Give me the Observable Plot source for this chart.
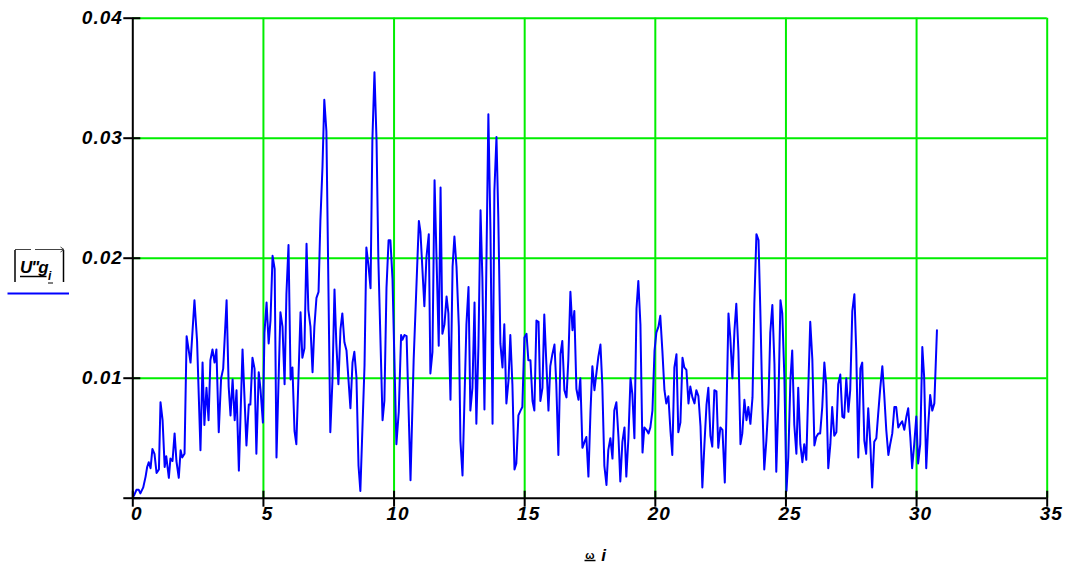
<!DOCTYPE html>
<html>
<head>
<meta charset="utf-8">
<script src="https://cdn.jsdelivr.net/npm/d3@7"></script>
<script src="https://cdn.jsdelivr.net/npm/@observablehq/plot@0.6"></script>
<style>
  html, body { margin: 0; padding: 0; background: #fff; }
  #chart { width: 1073px; height: 564px; }
</style>
</head>
<body>
<div id="chart"></div>
<script>
// x values (ω_i)
const omega = [
  0.04,0.14,0.23,0.29,0.40,0.49,0.55,0.61,0.68,0.75,0.83,0.91,1.00,1.06,1.14,1.22,1.28,1.38,1.44,1.52,
  1.60,1.67,1.76,1.83,1.89,1.98,2.06,2.21,2.36,2.46,2.59,2.67,2.74,2.82,2.90,2.97,3.05,3.13,3.20,3.29,
  3.38,3.46,3.59,3.67,3.74,3.82,3.90,3.97,4.06,4.20,4.35,4.44,4.50,4.58,4.66,4.73,4.82,4.89,4.98,
  5.04,5.12,5.20,5.27,5.35,5.43,5.50,5.65,5.73,5.81,5.88,5.96,6.04,6.11,6.19,6.26,6.42,6.49,6.57,6.65,
  6.72,6.80,6.88,6.95,7.03,7.11,7.18,7.26,7.33,7.41,7.56,7.64,7.72,7.79,7.87,7.95,8.02,8.10,8.18,8.33,
  8.41,8.48,8.56,8.64,8.71,8.87,8.94,9.02,9.10,9.17,9.25,9.33,9.40,
  9.56,9.63,9.71,9.79,9.86,9.94,10.09,10.18,10.27,10.32,10.40,10.48,10.63,10.75,10.95,11.01,11.16,11.24,11.33,11.39,
  11.47,11.55,11.71,11.78,11.85,11.93,12.01,12.08,12.16,12.24,12.31,12.39,12.48,12.54,12.62,12.77,12.85,12.92,13.00,13.08,
  13.15,13.23,13.31,13.38,13.46,13.54,13.61,13.69,13.77,13.84,13.92,13.99,14.07,14.15,14.22,14.30,14.38,14.45,14.53,14.61,
  14.68,14.76,14.84,14.91,14.99,15.07,15.14,15.22,15.30,15.37,15.45,15.53,15.60,15.68,15.75,15.83,15.91,15.98,16.06,16.14,
  16.21,16.29,16.37,16.44,16.52,16.60,16.67,16.75,16.83,16.90,16.98,17.06,17.13,17.21,17.29,17.36,17.44,17.52,17.59,17.67,
  17.75,17.82,17.90,17.97,18.05,18.13,18.20,18.28,18.36,18.43,18.51,18.59,18.66,18.74,18.82,18.89,18.97,19.05,
  19.12,19.20,19.28,19.35,19.43,19.51,19.58,19.66,19.74,19.81,19.89,19.97,20.04,20.12,20.19,20.27,20.35,20.42,20.50,20.58,
  20.65,20.73,20.81,20.88,20.96,21.04,21.11,21.19,21.27,21.34,21.42,21.50,21.57,21.65,21.73,21.80,21.88,21.96,22.03,22.11,
  22.18,22.26,22.34,22.41,22.49,22.57,22.66,22.72,22.80,22.87,22.95,23.03,23.10,23.18,23.26,23.33,23.41,23.49,23.56,23.64,
  23.72,23.79,23.87,23.95,24.02,24.10,24.17,24.25,24.33,24.40,24.48,24.56,24.63,24.71,24.79,24.86,24.94,25.02,25.09,25.17,
  25.24,25.32,25.40,25.47,25.55,25.63,25.70,25.78,25.86,25.93,26.01,26.09,26.16,26.24,26.31,26.39,26.47,26.54,26.62,
  26.70,26.77,26.85,26.93,27.00,27.08,27.16,27.23,27.31,27.39,27.46,27.54,27.62,27.69,27.77,27.85,27.92,28.00,28.07,28.15,
  28.23,28.30,28.38,28.46,28.53,28.61,28.69,28.76,28.84,28.92,28.99,29.07,29.15,29.22,29.30,29.38,29.45,29.53,29.61,29.68,
  29.76,29.83,29.91,29.99,30.06,30.14,30.22,30.29,30.37,30.45,30.52,30.60,30.68,30.78
];
// y values |U"g_i|
const Ug = [
  0.0002,0.0007,0.0007,0.0004,0.0009,0.0018,0.0026,0.0030,0.0025,0.0041,0.0037,0.0021,0.0024,0.0080,0.0065,0.0026,0.0035,0.0017,0.0033,0.0031,
  0.0054,0.0031,0.0017,0.0040,0.0034,0.0037,0.0135,0.0113,0.0165,0.0131,0.0040,0.0113,0.0061,0.0092,0.0065,0.0115,0.0124,0.0113,0.0124,0.0055,
  0.0100,0.0108,0.0165,0.0093,0.0069,0.0099,0.0065,0.0090,0.0023,0.0124,0.0044,0.0078,0.0078,0.0117,0.0108,0.0037,0.0105,0.0090,0.0063,
  0.0138,0.0163,0.0129,0.0148,0.0202,0.0191,0.0034,0.0155,0.0143,0.0095,0.0170,0.0211,0.0099,0.0109,0.0056,0.0045,0.0155,0.0117,0.0125,0.0212,
  0.0157,0.0143,0.0105,0.0143,0.0167,0.0172,0.0231,0.0276,0.0332,0.0306,0.0055,0.0097,0.0174,0.0129,0.0095,0.0141,0.0154,0.0130,0.0123,0.0075,
  0.0113,0.0122,0.0101,0.0027,0.0006,0.0111,0.0209,0.0194,0.0175,0.0298,0.0355,0.0298,0.0198,
  0.0065,0.0081,0.0175,0.0215,0.0215,0.0183,0.0045,0.0072,0.0136,0.0132,0.0136,0.0135,0.0015,0.0115,0.0231,0.0222,0.0160,0.0201,0.0220,0.0104,
  0.0122,0.0265,0.0127,0.0259,0.0137,0.0145,0.0168,0.0154,0.0082,0.0193,0.0218,0.0193,0.0143,0.0048,0.0019,0.0145,0.0176,0.0073,0.0092,0.0163,
  0.0062,0.0127,0.0240,0.0184,0.0074,0.0204,0.0320,0.0223,0.0062,0.0256,0.0301,0.0234,0.0129,0.0109,0.0145,0.0079,0.0098,0.0136,0.0095,0.0024,
  0.0029,0.0069,0.0073,0.0076,0.0134,0.0137,0.0115,0.0115,0.0081,0.0073,0.0148,0.0147,0.0081,0.0092,0.0153,0.0112,0.0073,0.0110,0.0120,0.0128,
  0.0095,0.0036,0.0120,0.0131,0.0090,0.0084,0.0115,0.0172,0.0140,0.0156,0.0091,0.0082,0.0100,0.0042,0.0047,0.0051,0.0018,0.0073,0.0110,0.0090,
  0.0105,0.0118,0.0128,0.0095,0.0027,0.0011,0.0040,0.0050,0.0033,0.0073,0.0080,0.0051,0.0014,0.0047,0.0059,0.0018,0.0050,0.0100,
  0.0087,0.0050,0.0158,0.0181,0.0145,0.0038,0.0059,0.0057,0.0054,0.0059,0.0073,0.0123,0.0138,0.0143,0.0152,0.0123,0.0090,0.0079,0.0085,0.0056,
  0.0036,0.0109,0.0120,0.0055,0.0063,0.0117,0.0109,0.0107,0.0079,0.0093,0.0084,0.0079,0.0090,0.0085,0.0060,0.0009,0.0045,0.0078,0.0092,0.0052,
  0.0043,0.0090,0.0089,0.0042,0.0059,0.0057,0.0013,0.0068,0.0154,0.0134,0.0100,0.0140,0.0162,0.0123,0.0045,0.0054,0.0082,0.0065,0.0076,0.0062,
  0.0084,0.0162,0.0220,0.0215,0.0156,0.0076,0.0024,0.0048,0.0079,0.0138,0.0161,0.0112,0.0022,0.0079,0.0165,0.0154,0.0101,0.0006,0.0034,0.0098,
  0.0123,0.0061,0.0037,0.0092,0.0045,0.0030,0.0045,0.0032,0.0095,0.0147,0.0116,0.0044,0.0051,0.0054,0.0054,0.0076,0.0113,0.0095,0.0025,
  0.0045,0.0076,0.0052,0.0055,0.0095,0.0103,0.0068,0.0067,0.0100,0.0072,0.0090,0.0156,0.0170,0.0123,0.0034,0.0108,0.0113,0.0048,0.0037,0.0075,
  0.0045,0.0009,0.0047,0.0050,0.0070,0.0092,0.0110,0.0087,0.0057,0.0036,0.0045,0.0054,0.0076,0.0076,0.0059,0.0062,0.0064,0.0057,0.0068,0.0075,
  0.0051,0.0025,0.0045,0.0068,0.0029,0.0045,0.0126,0.0101,0.0025,0.0062,0.0086,0.0073,0.0079,0.0140
];
const xTicks = [0, 5, 10, 15, 20, 25, 30, 35];
const yTicks = [0.01, 0.02, 0.03, 0.04];
const xLabelText = ["ω", "i"];
const yLabelText = ["U\"g", "i"];

const n = Math.min(omega.length, Ug.length);
if (omega.length !== Ug.length) console.error("length mismatch", omega.length, Ug.length);
const data = d3.range(n).map(i => ({x: omega[i], y: Ug[i]}));

const GREEN = "#00ee00";
const chart = Plot.plot({
  width: 1073,
  height: 564,
  marginLeft: 132.3,
  marginRight: 26.3,
  marginTop: 17.7,
  marginBottom: 66.3,
  x: {domain: [0, 35]},
  y: {domain: [0, 0.04]},
  style: {
    fontFamily: "'Liberation Sans', Arial, sans-serif",
    fontSize: "19px",
    fontWeight: "bold",
    fontStyle: "italic",
    letterSpacing: "1px",
    background: "#fff",
    overflow: "visible"
  },
  marks: [
    Plot.ruleX(xTicks.slice(1), {stroke: GREEN, strokeWidth: 2}),
    Plot.ruleY(yTicks, {stroke: GREEN, strokeWidth: 2}),
    Plot.lineY(data, {x: "x", y: "y", stroke: "#0000ff", strokeWidth: 2}),
    Plot.ruleY([0], {stroke: "#000", strokeWidth: 2}),
    Plot.ruleX([0], {stroke: "#000", strokeWidth: 2}),
    Plot.axisX({ticks: xTicks, tickSize: 16, dy: -7, tickFormat: () => "", label: null, stroke: "#000", strokeWidth: 2}),
    Plot.axisX({ticks: xTicks, tickSize: 0, tickPadding: 8, dx: 4, label: null, tickFormat: d => String(d)}),
    Plot.axisY({ticks: [0, ...yTicks], tickSize: 17, dx: 8, tickFormat: () => "", label: null, stroke: "#000", strokeWidth: 2}),
    Plot.axisY({ticks: yTicks, tickSize: 0, tickPadding: 10, label: null, tickFormat: d3.format(".2f")})
  ]
});
document.getElementById("chart").appendChild(chart);

// Axis titles (Mathcad-style decorated labels)
const svg = d3.select(chart);
const g = svg.append("g").attr("fill", "#000").attr("stroke-linecap", "butt")
  .attr("text-anchor", "start").style("letter-spacing", "0px");
// y label: |U"g_i| with overbars and arrow, underlined, and blue trace legend
g.append("text").attr("x", 20).attr("y", 273).attr("font-size", 17).attr("text-anchor", "start")
  .style("letter-spacing", "-1px").text(yLabelText[0]);
g.append("text").attr("x", 48).attr("y", 280).attr("font-size", 12).attr("text-anchor", "start").text(yLabelText[1]);
const ln = (x1, y1, x2, y2, w, c) => g.append("line").attr("x1", x1).attr("y1", y1).attr("x2", x2).attr("y2", y2)
  .attr("stroke", c || "#000").attr("stroke-width", w);
ln(15, 250, 15, 282, 1.5);
ln(63.5, 250, 63.5, 282, 1.5);
ln(20, 276.5, 46.5, 276.5, 1.5);
ln(48, 283, 53, 283, 1);
ln(15, 249.5, 31, 249.5, 1, "#444");
ln(35, 249.5, 64, 249.5, 1, "#444");
ln(60.5, 247, 64, 249.5, 1, "#444");
ln(60.5, 252, 64, 249.5, 1, "#444");
ln(7.5, 293.5, 69, 293.5, 2, "#0000ff");
// x label: ω i
g.append("text").attr("x", 590).attr("y", 558.5).attr("font-size", 11).attr("text-anchor", "middle")
  .attr("font-style", "normal").text(xLabelText[0]);
g.append("text").attr("x", 603.5).attr("y", 561).attr("font-size", 17).attr("text-anchor", "middle").text(xLabelText[1]);
ln(584.5, 560.5, 595.5, 560.5, 1.5);
</script>
</body>
</html>
